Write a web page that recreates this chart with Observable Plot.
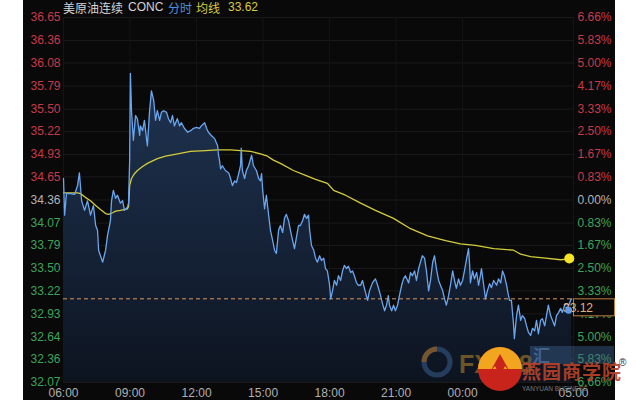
<!DOCTYPE html>
<html>
<head>
<meta charset="utf-8">
<script src="https://cdn.jsdelivr.net/npm/d3@7"></script>
<script src="https://cdn.jsdelivr.net/npm/@observablehq/plot@0.6"></script>
<style>
html,body{margin:0;padding:0;background:#fff;}
#wrap{position:relative;width:640px;height:400px;overflow:hidden;
  background:linear-gradient(to right,#ffffff 0,#ffffff 23px,#090909 23px,#090909 615px,#ffffff 615px);
  font-family:"Liberation Sans",Arial,sans-serif;}
#chart svg{display:block;}
.tt{position:absolute;top:1px;font-size:12px;line-height:13px;height:13px;white-space:nowrap;
  font-family:"Noto Sans CJK SC","Liberation Sans",sans-serif;}
.tl{font-family:"Liberation Sans",Arial,sans-serif;}
#wm{position:absolute;left:0;top:0;width:640px;height:400px;pointer-events:none;}
</style>
</head>
<body>
<div id="wrap">
  <div id="chart"></div>
  <span class="tt" style="left:63px;color:#d4d4d4">美原油连续</span>
  <span class="tt tl" style="left:128px;color:#d4d4d4">CONC</span>
  <span class="tt" style="left:168px;color:#4f8fdc">分时</span>
  <span class="tt" style="left:196px;color:#d8cb3e">均线</span>
  <span class="tt tl" style="left:228px;color:#d8cb3e">33.62</span>
  <svg id="wm" width="640" height="400">
    <circle cx="437" cy="362" r="13" fill="none" stroke="#2f4f78" stroke-width="5" opacity="0.7"/>
    <path d="M437 349 A13 13 0 0 0 424 362" fill="none" stroke="#8a5a24" stroke-width="5" opacity="0.8"/>
    <text x="459" y="373" font-size="25" font-weight="bold" fill="#6a5428" font-family="Liberation Sans">FX678</text>
    <rect x="530" y="346" width="84" height="18" fill="#3c5f8c" opacity="0.45"/>
    <text x="533" y="362" font-size="17" font-weight="bold" fill="#4a6d9c" opacity="0.8" font-family="Noto Sans CJK SC">汇</text>
    <circle cx="500" cy="369" r="22" fill="#c8241c"/>
    <path d="M478 369 A22 22 0 0 1 522 369 Z" fill="#f2a51e"/>
    <path d="M490 372 L500 354 L510 372 L505 366 L500 376 L495 366 Z" fill="#c8241c"/>
    <text x="522" y="379" font-size="19" font-weight="bold" fill="#b9432a" font-family="Noto Sans CJK SC" letter-spacing="1" opacity="0.9">燕园商学院</text>
    <text x="619" y="366" font-size="10" fill="#333" font-family="Liberation Sans">®</text>
    <text x="522" y="391" font-size="6.5" fill="#7a7a7a" font-family="Liberation Sans">YANYUAN BUSINESS</text>
  </svg>
</div>
<script>
// ---- axis ticks / labels ----
const xTickMins   = [0, 180, 360, 540, 720, 900, 1080, 1380];
const xTickLabels = ["06:00","09:00","12:00","15:00","18:00","21:00","00:00","05:00"];
const yTicks = [36.65, 36.36, 36.08, 35.79, 35.50, 35.22, 34.93, 34.65, 34.36,
                34.07, 33.79, 33.50, 33.22, 32.93, 32.64, 32.36, 32.07];
const pctLabels = ["6.66%","5.83%","5.00%","4.17%","3.33%","2.50%","1.67%","0.83%","0.00%",
                   "0.83%","1.67%","2.50%","3.33%","4.17%","5.00%","5.83%","6.66%"];
const prevClose = 34.36;
const lastPrice = 33.12;
const avgLast = 33.62;

// ---- price series (minutes after 06:00, price) ----
const priceMin = [
  0,3,8,19,30,38,43,49,57,65,
  73,81,87,92,95,100,106,114,119,127,
  130,135,141,146,154,160,165,173,176,179,
  181,184,189,195,200,206,208,214,219,225,
  227,233,238,244,249,254,260,265,271,279,
  284,290,295,300,308,314,319,327,336,344,
  352,360,368,373,382,387,392,400,409,417,
  419,422,425,430,438,447,452,457,463,468,
  473,479,481,484,490,495,501,509,514,522,
  528,533,536,539,544,549,555,560,566,571,
  576,582,587,593,598,603,609,614,620,625,
  631,636,641,647,652,658,663,666,671,677,
  682,687,693,698,704,709,714,720,723,728,
  733,739,744,750,755,760,766,771,777,782,
  787,793,798,804,809,817,823,828,836,844,
  850,858,863,869,874,879,882,888,893,898,
  904,909,915,920,925,934,939,944,950,955,
  961,966,971,977,982,988,993,999,1004,1009,
  1015,1020,1026,1031,1036,1042,1047,1053,1058,1063,
  1069,1074,1080,1085,1091,1096,1099,1101,1107,1112,
  1118,1123,1128,1131,1137,1142,1147,1153,1158,1164,
  1172,1177,1183,1188,1193,1199,1204,1207,1212,1218,
  1220,1226,1231,1237,1242,1248,1253,1258,1264,1269,
  1275,1280,1285,1291,1296,1302,1307,1312,1318,1323,
  1329,1334,1340,1345,1350,1356,1361,1367,1372,1375
];
const priceVal = [
  34.63,34.17,34.44,34.44,34.43,34.54,34.70,34.35,34.23,34.35,
  34.17,34.29,34.04,33.98,33.73,33.66,33.58,33.73,33.91,34.10,
  34.35,34.48,34.38,34.42,34.32,34.35,34.23,34.27,34.32,34.86,
  35.95,35.48,35.11,35.42,35.38,35.17,35.29,35.23,35.36,35.11,
  35.04,35.48,35.73,35.61,35.36,35.48,35.36,35.46,35.48,35.46,
  35.38,35.33,35.42,35.29,35.38,35.29,35.33,35.26,35.21,35.23,
  35.26,35.27,35.26,35.29,35.33,35.26,35.21,35.17,35.13,35.04,
  34.94,34.86,34.75,34.79,34.73,34.70,34.63,34.54,34.60,34.58,
  34.67,34.79,35.01,34.73,34.63,34.73,34.79,34.92,34.79,34.73,
  34.63,34.60,34.69,34.48,34.25,34.42,34.17,33.98,33.85,33.73,
  33.69,33.98,34.04,33.95,34.13,34.18,34.10,33.98,33.85,33.75,
  33.91,34.04,34.04,34.10,34.18,34.13,34.17,33.98,33.79,33.73,
  33.63,33.58,33.66,33.60,33.63,33.50,33.47,33.29,33.12,33.22,
  33.35,33.29,33.41,33.35,33.47,33.54,33.50,33.53,33.45,33.47,
  33.41,33.32,33.29,33.29,33.35,33.20,33.10,33.22,33.32,33.37,
  33.29,33.16,33.06,32.97,33.04,33.16,33.04,32.97,33.04,32.97,
  33.04,33.16,33.29,33.37,33.41,33.32,33.45,33.41,33.47,33.35,
  33.50,33.58,33.66,33.63,33.47,33.22,33.35,33.58,33.66,33.50,
  33.35,33.29,33.22,33.12,33.04,33.16,33.29,33.47,33.35,33.25,
  33.37,33.29,33.35,33.47,33.63,33.75,33.54,33.32,33.47,33.37,
  33.45,33.29,33.41,33.50,33.29,33.12,33.22,33.31,33.26,33.35,
  33.29,33.37,33.32,33.47,33.41,33.29,33.16,33.10,33.10,32.78,
  32.62,32.91,33.04,32.85,32.91,32.87,32.78,32.70,32.66,32.75,
  32.72,32.85,32.68,32.85,32.87,32.78,32.91,33.04,32.91,32.85,
  32.78,32.91,32.95,33.00,32.95,33.04,33.06,33.04,33.10,33.12
];

// ---- average price (均线) ----
const avgMin = [0,38,46,60,73,87,100,114,122,133,141,154,173,176,179,184,192,200,214,227,
  254,276,298,344,384,417,452,479,506,533,552,568,587,622,655,682,714,731,763,804,
  844,893,939,985,1034,1074,1115,1164,1218,1237,1264,1304,1345,1370];
const avgVal = [34.45,34.45,34.44,34.39,34.35,34.29,34.24,34.19,34.18,34.20,34.22,34.23,34.25,34.28,34.54,34.63,34.69,34.73,34.78,34.82,
  34.88,34.91,34.93,34.97,34.98,34.99,34.99,34.98,34.97,34.94,34.91,34.86,34.82,34.73,34.67,34.62,34.57,34.48,34.42,34.32,
  34.23,34.13,34.00,33.91,33.85,33.81,33.79,33.75,33.73,33.68,33.65,33.63,33.61,33.62];

const markerMin = 1368, markerVal = 32.97;

const priceData = priceMin.map((m, i) => ({m, v: priceVal[i]}));
const avgData = avgMin.map((m, i) => ({m, v: avgVal[i]}));
const tickData = yTicks.map((v, i) => ({v, pct: pctLabels[i],
  c: Math.abs(v - prevClose) < 0.001 ? "#b4b4b4" : (v > prevClose ? "#c83a4a" : "#3ea35a")}));
const xTickData = xTickMins.map((m, i) => ({m, label: xTickLabels[i]}));

const yMin = 32.07, yMax = 36.65;

const chart = Plot.plot({
  width: 640, height: 400,
  marginLeft: 63, marginRight: 67, marginTop: 17, marginBottom: 18,
  style: {background: "transparent", fontFamily: "Liberation Sans, Arial, sans-serif"},
  x: {domain: [0, 1380], axis: null},
  y: {domain: [yMin, yMax], axis: null},
  color: {type: "identity"},
  marks: [
    Plot.ruleY(yTicks, {stroke: "#1a1a1a", strokeWidth: 1}),
    Plot.ruleX(xTickMins, {stroke: "#151515", strokeWidth: 1}),
    Plot.areaY(priceData, {x: "m", y1: yMin, y2: "v", fill: "url(#areaGrad)", curve: "linear"}),
    Plot.ruleY([lastPrice], {stroke: "#d69a62", strokeWidth: 1, strokeDasharray: "4,3"}),
    Plot.lineY(avgData, {x: "m", y: "v", stroke: "#d4cc3a", strokeWidth: 1.3}),
    Plot.lineY(priceData, {x: "m", y: "v", stroke: "#6aa6ee", strokeWidth: 1.3}),
    Plot.text(tickData, {y: "v", text: d => d.v.toFixed(2), frameAnchor: "left", dx: -3, textAnchor: "end",
      fill: "c", fontSize: 12}),
    Plot.text(tickData, {y: "v", text: "pct", frameAnchor: "right", dx: 4, textAnchor: "start",
      fill: "c", fontSize: 12}),
    Plot.text(xTickData, {x: "m", text: "label", frameAnchor: "bottom", dy: 11, lineAnchor: "middle",
      fill: "#b0b0b0", fontSize: 12})
  ]
});
document.getElementById("chart").appendChild(chart);

const svg = d3.select(chart.tagName.toLowerCase() === "svg" ? chart : chart.querySelector("svg"));
svg.insert("defs", ":first-child").html(
  '<linearGradient id="areaGrad" x1="0" y1="0" x2="0" y2="1">' +
  '<stop offset="0" stop-color="#1f3452"/>' +
  '<stop offset="0.5" stop-color="#16243a"/>' +
  '<stop offset="1" stop-color="#0d1420"/></linearGradient>');

// current price tag box on the right axis
const ys = chart.scale("y"), xs = chart.scale("x");
const yb = ys.apply(lastPrice);
const xr = xs.apply(1380);
svg.append("rect").attr("x", xr + 0.5).attr("y", yb + 0.5).attr("width", 41).attr("height", 17)
  .attr("fill", "#090909").attr("stroke", "#c27a3e").attr("stroke-width", 1);
svg.append("text").attr("x", xr + 5).attr("y", yb + 9).attr("dy", "0.35em")
  .attr("fill", "#e2b07c").attr("font-size", 12).attr("font-family", "Liberation Sans, Arial, sans-serif")
  .text(lastPrice.toFixed(2));

// end-of-series dots (drawn above the tag box edge)
svg.append("circle").attr("cx", xs.apply(avgMin[avgMin.length - 1])).attr("cy", ys.apply(avgLast))
  .attr("r", 5).attr("fill", "#f4e523");
svg.append("circle").attr("cx", xs.apply(markerMin)).attr("cy", ys.apply(markerVal))
  .attr("r", 3.5).attr("fill", "#5d9cec");
</script>
</body>
</html>
